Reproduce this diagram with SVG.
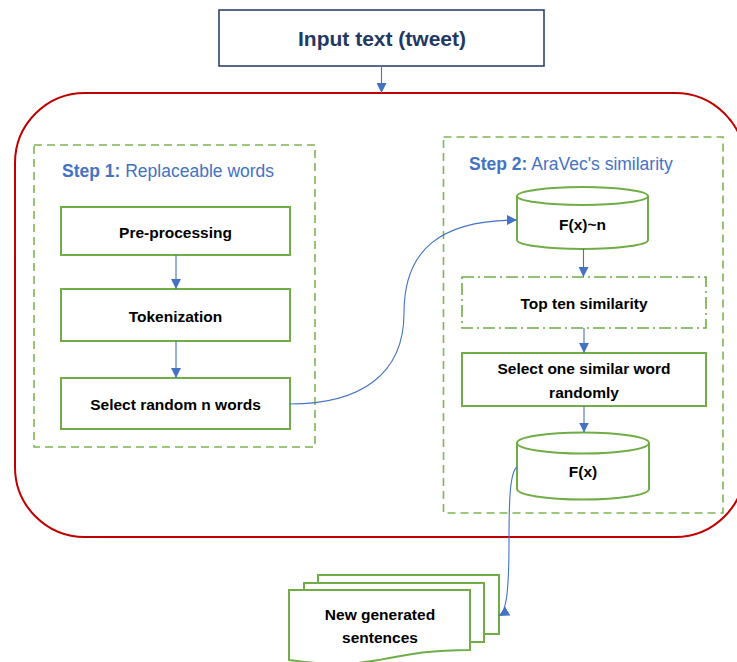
<svg xmlns="http://www.w3.org/2000/svg" width="737" height="662" viewBox="0 0 737 662">
<defs>
<style>
text{font-family:"Liberation Sans",Arial,sans-serif;}
.lbl{font-size:15.5px;font-weight:bold;fill:#000;text-anchor:middle;}
.step{font-size:17.5px;fill:#4472C4;}
.box{fill:#fff;stroke:#70AD47;stroke-width:2;}
.grp{fill:none;stroke:#7DB553;stroke-width:1.6;stroke-dasharray:8 5;}
.conn{fill:none;stroke:#4472C4;stroke-width:1.1;marker-end:url(#ah);}
</style>
<marker id="ah" markerUnits="userSpaceOnUse" markerWidth="10" markerHeight="10" viewBox="0 0 10 10" refX="10" refY="5" orient="auto">
<path d="M0,0 L10,5 L0,10 z" fill="#4472C4"/>
</marker>
</defs>
<rect width="737" height="662" fill="#fff"/>
<g id="container">
<rect x="15" y="93" width="730" height="444" rx="70" ry="70" fill="none" stroke="#C00000" stroke-width="2"/>
</g>
<g id="step1">
<rect class="grp" x="34" y="145" width="281" height="302"/>
<text class="step" x="62" y="177"><tspan font-weight="bold">Step 1:</tspan> Replaceable words</text>
</g>
<g id="step2">
<rect class="grp" x="443.5" y="137" width="279.5" height="376"/>
<text class="step" x="469" y="170"><tspan font-weight="bold">Step 2:</tspan> AraVec's similarity</text>
</g>
<g id="input">
<rect x="219" y="10" width="325" height="56" fill="#fff" stroke="#1F3864" stroke-width="1.5"/>
<text x="382" y="46" font-size="21" font-weight="bold" fill="#1F3864" text-anchor="middle">Input text (tweet)</text>
</g>
<g id="preprocessing">
<rect class="box" x="61" y="207" width="229" height="48"/>
<text class="lbl" x="175.5" y="238">Pre-processing</text>
</g>
<g id="tokenization">
<rect class="box" x="61" y="289" width="229" height="52"/>
<text class="lbl" x="175.5" y="322">Tokenization</text>
</g>
<g id="select-random">
<rect class="box" x="61" y="378" width="229" height="51"/>
<text class="lbl" x="175.5" y="410">Select random n words</text>
</g>
<g id="fxn">
<path d="M517,196 A65.5,9 0 0,1 648,196 V240 A65.5,9 0 0,1 517,240 Z" fill="#fff" stroke="#70AD47" stroke-width="2"/>
<path d="M517,196 A65.5,9 0 0,0 648,196" fill="none" stroke="#70AD47" stroke-width="2"/>
<text class="lbl" x="582.5" y="230">F(x)~n</text>
</g>
<g id="top-ten">
<rect x="462" y="277" width="244" height="51" fill="#fff" stroke="#70AD47" stroke-width="1.6" stroke-dasharray="12 4 2 4"/>
<text class="lbl" x="584" y="309">Top ten similarity</text>
</g>
<g id="select-one">
<rect class="box" x="462" y="353" width="244" height="53"/>
<text class="lbl" x="584" y="374">Select one similar word</text>
<text class="lbl" x="584" y="398">randomly</text>
</g>
<g id="fx">
<path d="M517,443 A66,10.5 0 0,1 649,443 V489 A66,10.5 0 0,1 517,489 Z" fill="#fff" stroke="#70AD47" stroke-width="2"/>
<path d="M517,443 A66,10.5 0 0,0 649,443" fill="none" stroke="#70AD47" stroke-width="2"/>
<text class="lbl" x="583" y="477">F(x)</text>
</g>
<g id="new-sentences">
<path d="M318,583 V575 H499 V634 H484" fill="#fff" stroke="#70AD47" stroke-width="2"/>
<path d="M304,590 V583 H484 V642 H470" fill="#fff" stroke="#70AD47" stroke-width="2"/>
<path d="M289,590 H470 V650 C380,650 380,673 289,660 Z" fill="#fff" stroke="#70AD47" stroke-width="2"/>
<text class="lbl" x="380" y="620">New generated</text>
<text class="lbl" x="380" y="643">sentences</text>
</g>
<g id="connectors">
<line class="conn" x1="381.5" y1="66" x2="381.5" y2="93"/>
<line class="conn" x1="176" y1="255" x2="176" y2="289"/>
<line class="conn" x1="176" y1="341" x2="176" y2="378"/>
<path class="conn" d="M290,404 C360,404 404,375 404,313 C404,250 440,220 517,220"/>
<line class="conn" x1="583.5" y1="249" x2="583.5" y2="277"/>
<line class="conn" x1="584" y1="328" x2="584" y2="353"/>
<line class="conn" x1="584" y1="406" x2="584" y2="432.5"/>
<path class="conn" d="M517,467 C510,472 509,500 509,540 C509,595 506,612 499,616"/>
</g>
</svg>
